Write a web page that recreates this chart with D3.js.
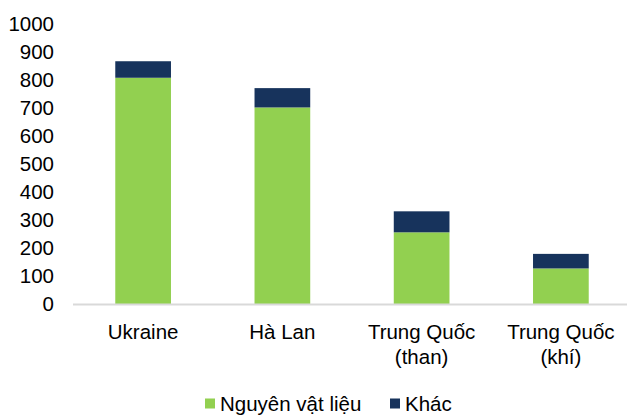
<!DOCTYPE html>
<html>
<head>
<meta charset="utf-8">
<script src="https://cdn.jsdelivr.net/npm/d3@7.9.0/dist/d3.min.js"></script>
<style>
  body { margin: 0; background: #fff; }
  svg { display: block; font-family: Arial, "Liberation Sans", sans-serif; }
</style>
</head>
<body>
<svg id="chart" width="627" height="415"></svg>
<script>
const categories = [['Ukraine'], ['Hà Lan'], ['Trung Quốc', '(than)'], ['Trung Quốc', '(khí)']];
const materials = [808, 702, 256, 127];
const others = [59, 69, 75, 52];
const seriesNames = ['Nguyên vật liệu', 'Khác'];
const yTicks = [0, 100, 200, 300, 400, 500, 600, 700, 800, 900, 1000];

const colors = ['#92d050', '#17335c'];
const fontSize = 20.5;

const svg = d3.select('#chart');
const keys = categories.map(c => c.join(' '));

const x = d3.scaleBand()
  .domain(keys)
  .range([73.5, 630.5])
  .paddingInner(0.6)
  .paddingOuter(0.3);

const y = d3.scaleLinear()
  .domain([0, 1000])
  .range([304, 24]);

const rows = keys.map((k, i) => ({ key: k, m: materials[i], o: others[i] }));
const stacked = d3.stack().keys(['m', 'o'])(rows);

// y tick labels
svg.append('g')
  .selectAll('text')
  .data(yTicks)
  .join('text')
    .attr('x', 54)
    .attr('y', d => y(d))
    .attr('dy', '0.35em')
    .attr('text-anchor', 'end')
    .attr('font-size', fontSize)
    .attr('fill', '#000')
    .text(d => d);

// bars
svg.append('g')
  .selectAll('g')
  .data(stacked)
  .join('g')
    .attr('fill', (_, i) => colors[i])
  .selectAll('rect')
  .data(d => d)
  .join('rect')
    .attr('x', d => x(d.data.key))
    .attr('width', x.bandwidth())
    .attr('y', d => y(d[1]))
    .attr('height', d => y(d[0]) - y(d[1]));

// baseline
svg.append('line')
  .attr('x1', 73).attr('x2', 627)
  .attr('y1', 304.5).attr('y2', 304.5)
  .attr('stroke', '#d9d9d9')
  .attr('stroke-width', 2);

// category labels
const catG = svg.append('g');
categories.forEach((lines, i) => {
  const cx = x(keys[i]) + x.bandwidth() / 2;
  const t = catG.append('text')
    .attr('x', cx)
    .attr('y', 338.5)
    .attr('text-anchor', 'middle')
    .attr('font-size', fontSize)
    .attr('fill', '#000');
  lines.forEach((l, j) => {
    t.append('tspan')
      .attr('x', cx)
      .attr('dy', j === 0 ? 0 : 25)
      .text(l);
  });
});

// legend
const legendX = [205, 390];
const legend = svg.append('g');
seriesNames.forEach((name, i) => {
  legend.append('rect')
    .attr('x', legendX[i]).attr('y', 398.5)
    .attr('width', 10).attr('height', 10)
    .attr('fill', colors[i]);
  legend.append('text')
    .attr('x', legendX[i] + 15)
    .attr('y', 411)
    .attr('font-size', fontSize)
    .attr('fill', '#000')
    .text(name);
});
</script>
</body>
</html>
